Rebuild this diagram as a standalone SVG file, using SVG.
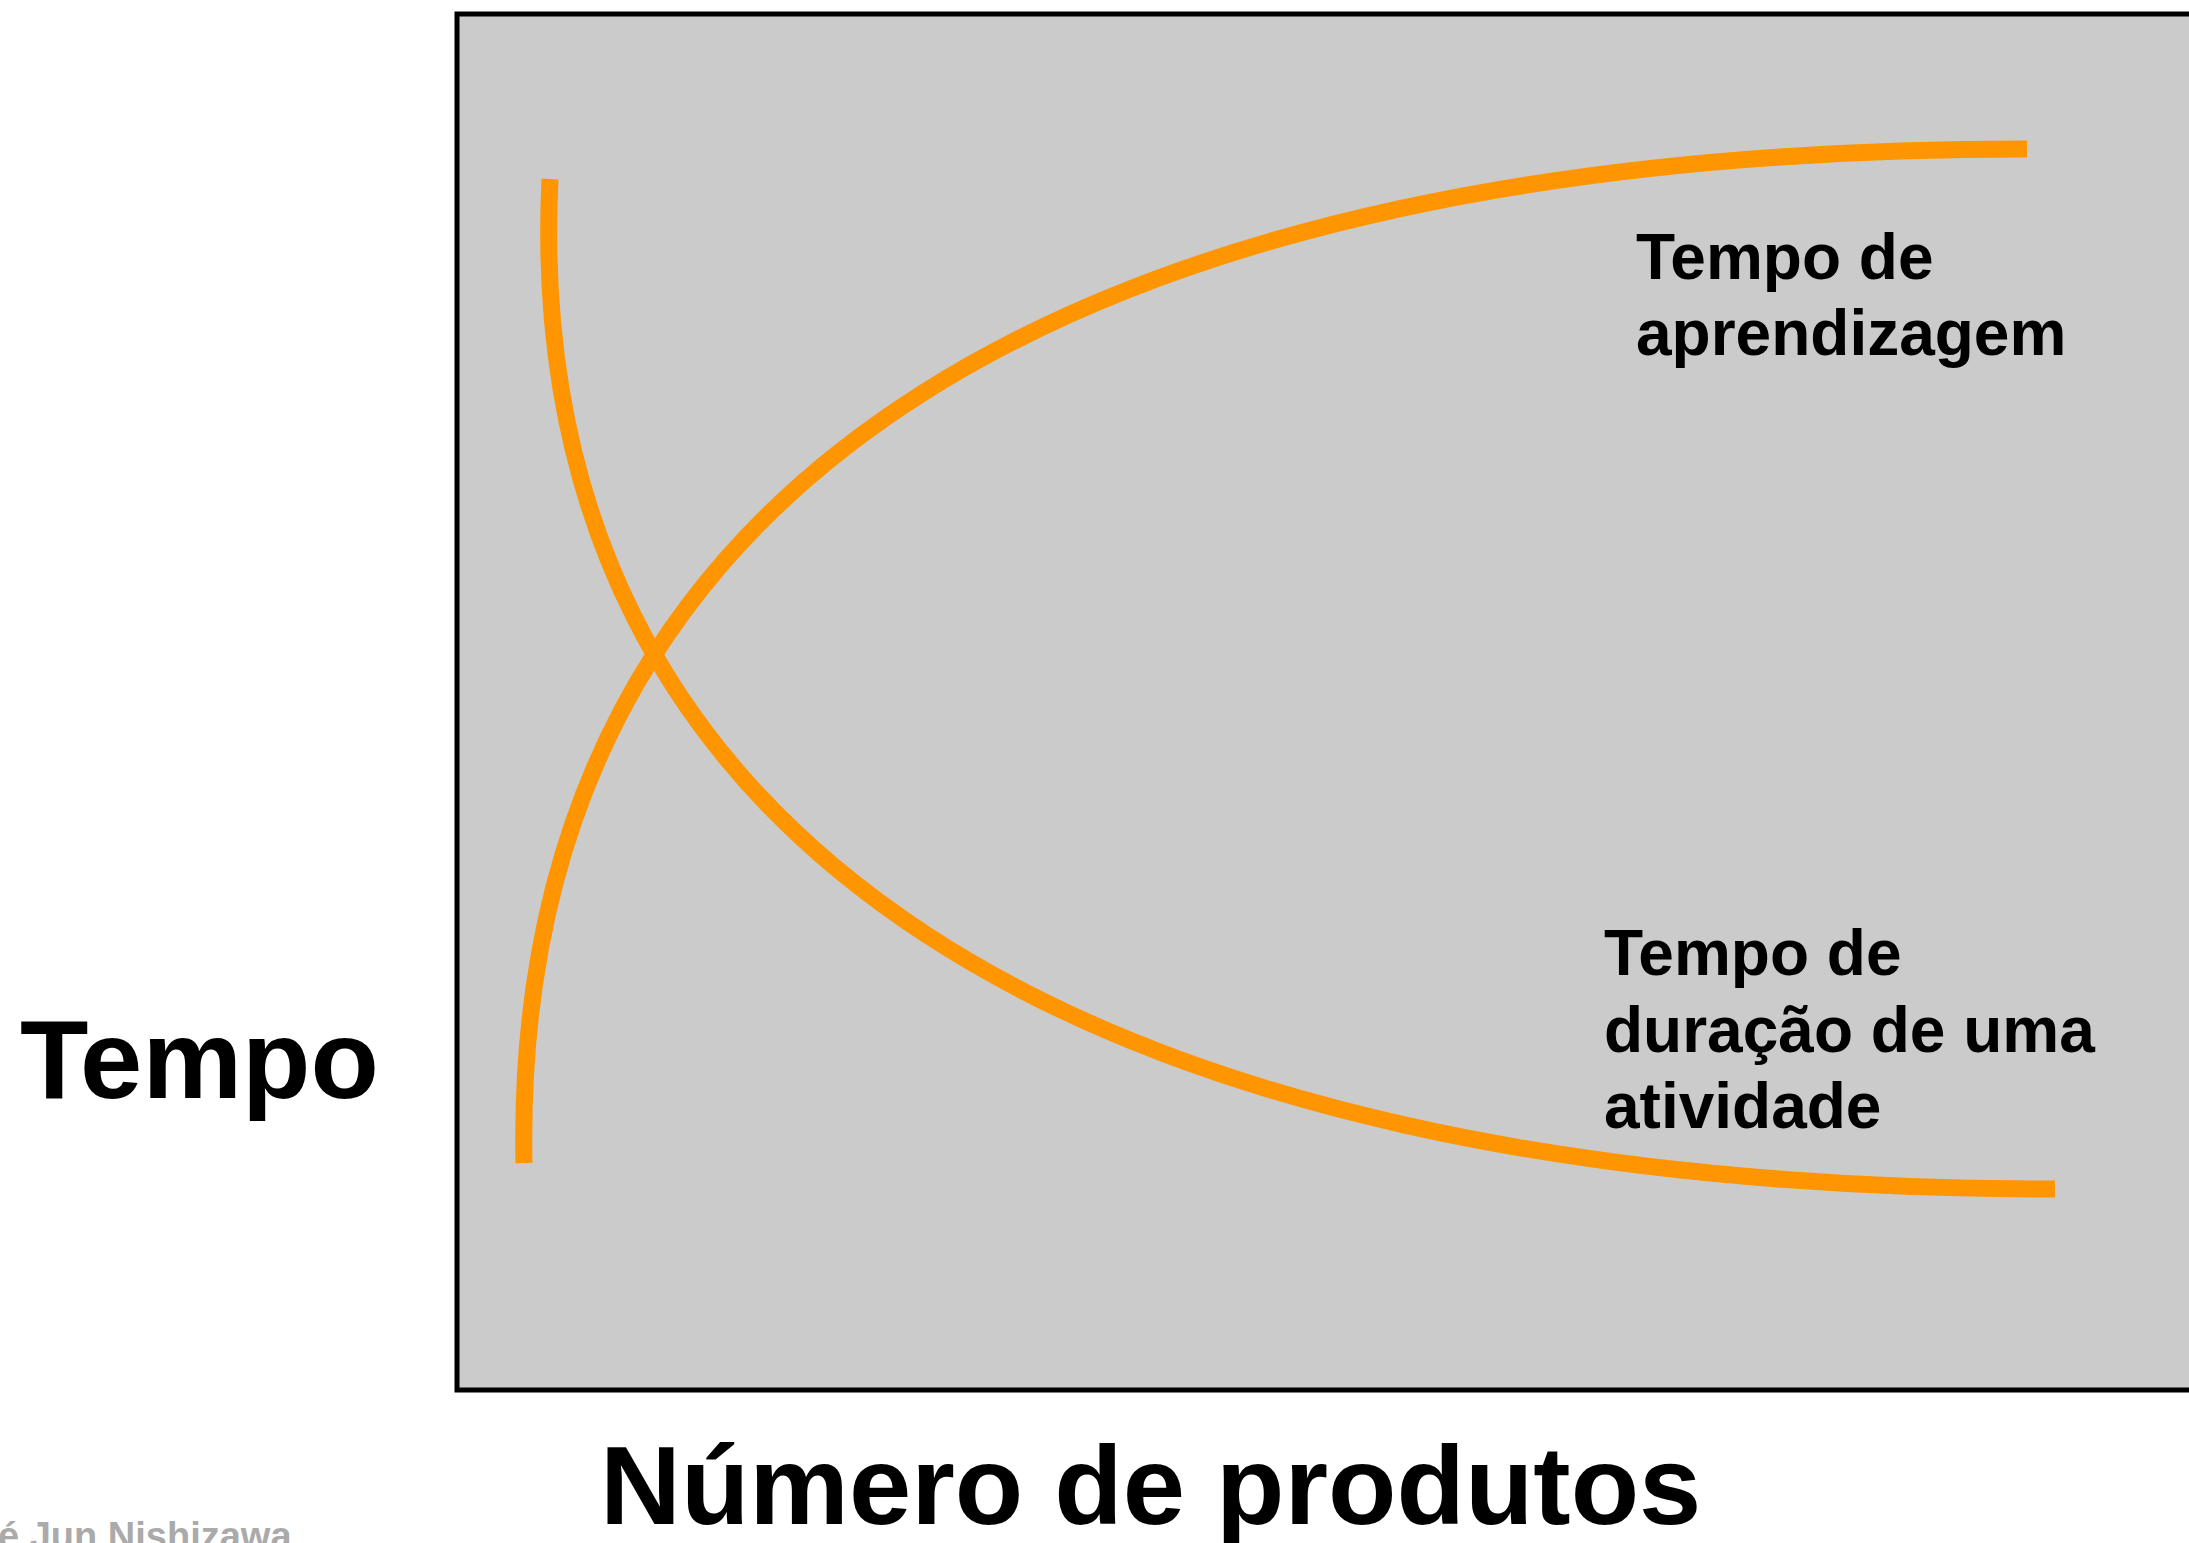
<svg xmlns="http://www.w3.org/2000/svg" width="2189" height="1543" viewBox="0 0 2189 1543">
  <style>
    .curve { fill: none; stroke: #ff9500; stroke-width: 17; stroke-linecap: butt; }
    .lbl { font-family: "Liberation Sans", Arial, sans-serif; font-weight: bold; fill: #000; }
    .axis { font-size: 112px; }
    .note { font-size: 64px; }
    .credit { font-family: "Liberation Sans", Arial, sans-serif; font-weight: bold; font-size: 38px; fill: #aaaaaa; }
  </style>
  <rect width="2189" height="1543" fill="#ffffff"/>
  <g id="plot">
    <rect x="457" y="14" width="1800" height="1376" fill="#cbcbcb" stroke="#000" stroke-width="5"/>
  </g>
  <g id="connectors">
    <path id="curve-duracao" class="curve" d="M 550 179 C 518 845, 1080 1189, 2055 1189"/>
    <path id="curve-aprendizagem" class="curve" d="M 524 1163 C 510 462, 1100 149, 2027 149"/>
  </g>
  <g id="label-aprendizagem">
    <text class="lbl note" x="1636" y="279">Tempo de</text>
    <text class="lbl note" x="1636" y="355">aprendizagem</text>
  </g>
  <g id="label-duracao">
    <text class="lbl note" x="1604" y="975">Tempo de</text>
    <text class="lbl note" x="1604" y="1052">duração de uma</text>
    <text class="lbl note" x="1604" y="1128">atividade</text>
  </g>
  <g id="axis-y">
    <text class="lbl axis" x="20" y="1098">Tempo</text>
  </g>
  <g id="axis-x">
    <text class="lbl axis" x="600" y="1524">Número de produtos</text>
  </g>
  <g id="credit">
    <text class="credit" x="-2" y="1549">é Jun Nishizawa</text>
  </g>
</svg>
